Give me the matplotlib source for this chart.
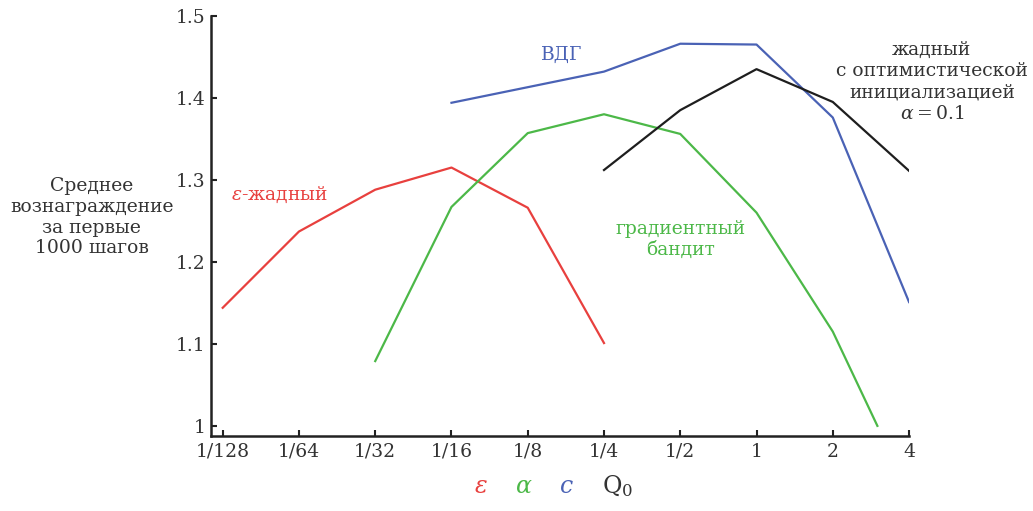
import matplotlib
matplotlib.use('Agg')
import matplotlib.pyplot as plt
from matplotlib.ticker import FixedLocator, NullLocator

plt.rcParams['font.family'] = ['DejaVu Serif']
plt.rcParams['mathtext.fontset'] = 'dejavuserif'

# parameter grid (log2 spaced) and tick labels
x_ticks = [1/128, 1/64, 1/32, 1/16, 1/8, 1/4, 1/2, 1, 2, 4]
x_labels = ['1/128', '1/64', '1/32', '1/16', '1/8', '1/4', '1/2', '1', '2', '4']
y_ticks = [1.0, 1.1, 1.2, 1.3, 1.4, 1.5]
y_labels = ['1', '1.1', '1.2', '1.3', '1.4', '1.5']

# epsilon-greedy
eps_x = [1/128, 1/64, 1/32, 1/16, 1/8, 1/4]
eps_y = [1.144, 1.237, 1.288, 1.315, 1.266, 1.101]

# gradient bandit
grad_x = [1/32, 1/16, 1/8, 1/4, 1/2, 1, 2, 3]
grad_y = [1.079, 1.267, 1.357, 1.380, 1.356, 1.260, 1.115, 1.000]

# UCB
ucb_x = [1/16, 1/8, 1/4, 1/2, 1, 2, 4]
ucb_y = [1.394, 1.413, 1.432, 1.466, 1.465, 1.376, 1.151]

# greedy with optimistic initialization, alpha = 0.1
opt_x = [1/4, 1/2, 1, 2, 4]
opt_y = [1.312, 1.385, 1.435, 1.395, 1.311]

RED = '#e8403e'
GREEN = '#4cb848'
BLUE = '#4a62b5'
BLACK = '#1e1e1e'
TEXT = '#333333'

fig = plt.figure(figsize=(10.33, 5.11), dpi=100)
ax = fig.add_axes([0.204, 0.147, 0.676, 0.822])

lw = 1.6
ax.plot(eps_x, eps_y, color=RED, lw=lw)
ax.plot(grad_x, grad_y, color=GREEN, lw=lw)
ax.plot(ucb_x, ucb_y, color=BLUE, lw=lw)
ax.plot(opt_x, opt_y, color=BLACK, lw=lw)

ax.set_xscale('log', base=2)
ax.set_xlim(2 ** -7.157, 4)
ax.set_ylim(0.9878, 1.5)
ax.xaxis.set_major_locator(FixedLocator(x_ticks))
ax.xaxis.set_minor_locator(NullLocator())
ax.set_xticks(x_ticks, x_labels)
ax.set_yticks(y_ticks, y_labels)

for side in ['top', 'right']:
    ax.spines[side].set_visible(False)
for side in ['left', 'bottom']:
    ax.spines[side].set_linewidth(1.8)
    ax.spines[side].set_color('#222222')
ax.tick_params(direction='in', length=4, width=1.5, color='#222222',
               labelsize=13.5, labelcolor=TEXT)
ax.tick_params(axis='y', pad=4)
ax.tick_params(axis='x', pad=5)

fs = 13.5
ax.text(1/128 * 2 ** 0.75, 1.282, '$\\varepsilon$-жадный', color=RED,
        fontsize=fs, ha='center', va='center')
ax.text(2 ** -2.55, 1.452, 'ВДГ', color=BLUE, fontsize=fs,
        ha='center', va='center')
ax.text(0.5, 1.227, 'градиентный\nбандит', color=GREEN, fontsize=fs,
        ha='center', va='center', linespacing=1.2)
ax.text(2 ** 2.3, 1.4195, 'жадный\nс оптимистической\nинициализацией\n$\\alpha = 0.1$',
        color=TEXT, fontsize=fs, ha='center', va='center', linespacing=1.25,
        clip_on=False)

fig.text(0.089, 0.575, 'Среднее\nвознаграждение\nза первые\n1000 шагов',
         color=TEXT, fontsize=fs, ha='center', va='center', linespacing=1.2)

# parameter symbols under the axis
legend_items = [('$\\varepsilon$', RED, 0.466), ('$\\alpha$', GREEN, 0.507),
                ('$c$', BLUE, 0.548), ('$\\mathrm{Q}_0$', TEXT, 0.598)]
for s, c, xp in legend_items:
    fig.text(xp, 0.035, s, color=c, fontsize=17, ha='center', va='baseline')

fig.savefig('out.png', dpi=100)
